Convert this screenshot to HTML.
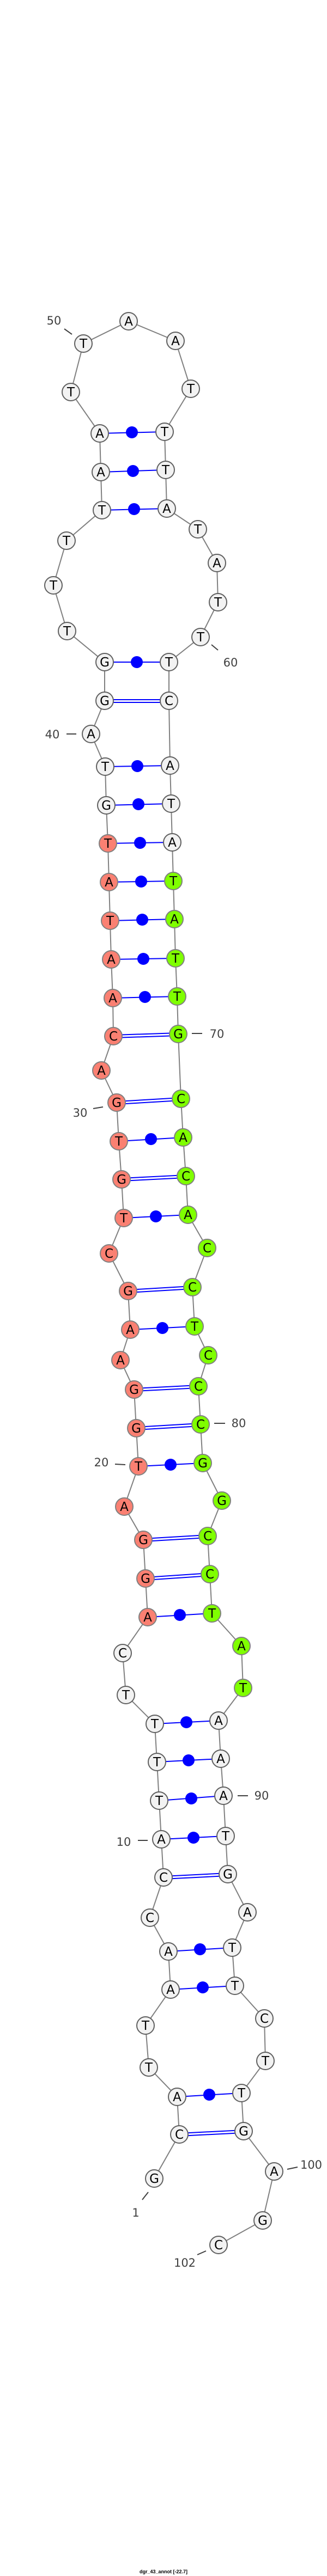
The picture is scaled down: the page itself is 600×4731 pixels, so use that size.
<!DOCTYPE html>
<html><head><meta charset="utf-8"><style>
html,body{margin:0;padding:0;background:#fff;}
svg{display:block;}
.n text{font-family:"DejaVu Sans","Liberation Sans",sans-serif;font-size:23px;text-anchor:middle;fill:#000;}
.lb{font-family:"DejaVu Sans","Liberation Sans",sans-serif;font-size:21px;text-anchor:middle;fill:#404040;}
</style></head><body>
<svg width="600" height="4731" viewBox="0 0 600 4731" xmlns="http://www.w3.org/2000/svg">
<polyline fill="none" stroke="#808080" stroke-width="2" points="283,4001 329,3920 325,3851 273,3797 267,3720 313,3654 309,3584 275,3522 300,3448 296,3378 292,3307 288,3236 284,3166 231,3113 225,3036 271,2970 267,2899 263,2828 228,2767 254,2693 250,2623 246,2552 221,2498 239,2442 235,2371 200,2302 227,2237 223,2166 218,2096 214,2025 186,1966 208,1903 207,1833 204,1762 202,1691 200,1620 198,1549 195,1479 193,1408 167,1348 192,1287 192,1216 123,1159 98,1075 122,993 187,937 185,867 183,796 130,720 153,631 236,590 322,626 350,714 302,793 304,863 306,934 363,972 398,1034 400,1106 368,1170 310,1216 310,1287 312,1406 314,1476 316,1547 318,1618 320,1688 322,1760 325,1830 327,1899 332,2018 336,2089 341,2160 345,2231 380,2292 353,2364 357,2436 382,2489 364,2546 368,2616 372,2687 407,2756 381,2821 385,2891 389,2963 443,3023 446,3100 401,3160 405,3230 410,3298 414,3372 418,3442 454,3512 426,3577 431,3647 485,3707 487,3785 443,3844 447,3914 503,3988 482,4078 401,4123"/>
<g stroke="#0000ff" stroke-width="2">
<!-- single pairs -->
<line x1="325" y1="3851" x2="443" y2="3844"/>
<line x1="313" y1="3654" x2="431" y2="3647"/>
<line x1="309" y1="3584" x2="426" y2="3577"/>
<line x1="296" y1="3378" x2="414" y2="3372"/>
<line x1="292" y1="3307" x2="410" y2="3298"/>
<line x1="288" y1="3236" x2="405" y2="3230"/>
<line x1="284" y1="3166" x2="401" y2="3160"/>
<line x1="271" y1="2970" x2="389" y2="2963"/>
<line x1="254" y1="2693" x2="372" y2="2687"/>
<line x1="239" y1="2442" x2="357" y2="2436"/>
<line x1="227" y1="2237" x2="345" y2="2231"/>
<line x1="218" y1="2096" x2="336" y2="2089"/>
<line x1="207" y1="1833" x2="325" y2="1830"/>
<line x1="204" y1="1762" x2="322" y2="1760"/>
<line x1="202" y1="1691" x2="320" y2="1688"/>
<line x1="200" y1="1620" x2="318" y2="1618"/>
<line x1="198" y1="1549" x2="316" y2="1547"/>
<line x1="195" y1="1479" x2="314" y2="1476"/>
<line x1="193" y1="1408" x2="312" y2="1406"/>
<line x1="192" y1="1216" x2="310" y2="1216"/>
<line x1="187" y1="937" x2="306" y2="934"/>
<line x1="185" y1="867" x2="304" y2="863"/>
<line x1="183" y1="796" x2="302" y2="793"/>
<!-- double pairs -->
<line x1="329" y1="3918" x2="447" y2="3912"/><line x1="329" y1="3923" x2="447" y2="3917"/>
<line x1="300" y1="3446" x2="418" y2="3440"/><line x1="300" y1="3451" x2="418" y2="3445"/>
<line x1="267" y1="2897" x2="385" y2="2889"/><line x1="267" y1="2902" x2="385" y2="2894"/>
<line x1="263" y1="2826" x2="381" y2="2819"/><line x1="263" y1="2831" x2="381" y2="2824"/>
<line x1="250" y1="2621" x2="368" y2="2614"/><line x1="250" y1="2626" x2="368" y2="2619"/>
<line x1="246" y1="2550" x2="364" y2="2544"/><line x1="246" y1="2555" x2="364" y2="2549"/>
<line x1="235" y1="2369" x2="353" y2="2362"/><line x1="235" y1="2374" x2="353" y2="2367"/>
<line x1="223" y1="2164" x2="341" y2="2158"/><line x1="223" y1="2169" x2="341" y2="2163"/>
<line x1="214" y1="2023" x2="332" y2="2016"/><line x1="214" y1="2028" x2="332" y2="2021"/>
<line x1="208" y1="1901" x2="327" y2="1897"/><line x1="208" y1="1906" x2="327" y2="1902"/>
<line x1="192" y1="1285" x2="310" y2="1285"/><line x1="192" y1="1290" x2="310" y2="1290"/>
</g>
<g fill="#0000ff">
<circle cx="384" cy="3847" r="11"/><circle cx="372" cy="3650" r="11"/><circle cx="367" cy="3580" r="11"/>
<circle cx="355" cy="3375" r="11"/><circle cx="351" cy="3303" r="11"/><circle cx="346" cy="3233" r="11"/>
<circle cx="342" cy="3163" r="11"/><circle cx="330" cy="2966" r="11"/><circle cx="313" cy="2690" r="11"/>
<circle cx="298" cy="2439" r="11"/><circle cx="286" cy="2234" r="11"/><circle cx="277" cy="2092" r="11"/>
<circle cx="266" cy="1831" r="11"/><circle cx="263" cy="1761" r="11"/><circle cx="261" cy="1689" r="11"/>
<circle cx="259" cy="1619" r="11"/><circle cx="257" cy="1548" r="11"/><circle cx="254" cy="1477" r="11"/>
<circle cx="252" cy="1407" r="11"/><circle cx="251" cy="1216" r="11"/><circle cx="246" cy="935" r="11"/>
<circle cx="244" cy="865" r="11"/><circle cx="242" cy="794" r="11"/>
</g>
<g class="n" stroke-width="2">
<g><circle cx="283" cy="4001" r="16" fill="#f2f2f2" stroke="#606060"/><text x="283" y="4009">G</text></g>
<g><circle cx="329" cy="3920" r="16" fill="#f2f2f2" stroke="#606060"/><text x="329" y="3928">C</text></g>
<g><circle cx="325" cy="3851" r="16" fill="#f2f2f2" stroke="#606060"/><text x="325" y="3859">A</text></g>
<g><circle cx="273" cy="3797" r="16" fill="#f2f2f2" stroke="#606060"/><text x="273" y="3805">T</text></g>
<g><circle cx="267" cy="3720" r="16" fill="#f2f2f2" stroke="#606060"/><text x="267" y="3728">T</text></g>
<g><circle cx="313" cy="3654" r="16" fill="#f2f2f2" stroke="#606060"/><text x="313" y="3662">A</text></g>
<g><circle cx="309" cy="3584" r="16" fill="#f2f2f2" stroke="#606060"/><text x="309" y="3592">A</text></g>
<g><circle cx="275" cy="3522" r="16" fill="#f2f2f2" stroke="#606060"/><text x="275" y="3530">C</text></g>
<g><circle cx="300" cy="3448" r="16" fill="#f2f2f2" stroke="#606060"/><text x="300" y="3456">C</text></g>
<g><circle cx="296" cy="3378" r="16" fill="#f2f2f2" stroke="#606060"/><text x="296" y="3386">A</text></g>
<g><circle cx="292" cy="3307" r="16" fill="#f2f2f2" stroke="#606060"/><text x="292" y="3315">T</text></g>
<g><circle cx="288" cy="3236" r="16" fill="#f2f2f2" stroke="#606060"/><text x="288" y="3244">T</text></g>
<g><circle cx="284" cy="3166" r="16" fill="#f2f2f2" stroke="#606060"/><text x="284" y="3174">T</text></g>
<g><circle cx="231" cy="3113" r="16" fill="#f2f2f2" stroke="#606060"/><text x="231" y="3121">T</text></g>
<g><circle cx="225" cy="3036" r="16" fill="#f2f2f2" stroke="#606060"/><text x="225" y="3044">C</text></g>
<g><circle cx="271" cy="2970" r="16" fill="#fa8072" stroke="#808080"/><text x="271" y="2978">A</text></g>
<g><circle cx="267" cy="2899" r="16" fill="#fa8072" stroke="#808080"/><text x="267" y="2907">G</text></g>
<g><circle cx="263" cy="2828" r="16" fill="#fa8072" stroke="#808080"/><text x="263" y="2836">G</text></g>
<g><circle cx="228" cy="2767" r="16" fill="#fa8072" stroke="#808080"/><text x="228" y="2775">A</text></g>
<g><circle cx="254" cy="2693" r="16" fill="#fa8072" stroke="#808080"/><text x="254" y="2701">T</text></g>
<g><circle cx="250" cy="2623" r="16" fill="#fa8072" stroke="#808080"/><text x="250" y="2631">G</text></g>
<g><circle cx="246" cy="2552" r="16" fill="#fa8072" stroke="#808080"/><text x="246" y="2560">G</text></g>
<g><circle cx="221" cy="2498" r="16" fill="#fa8072" stroke="#808080"/><text x="221" y="2506">A</text></g>
<g><circle cx="239" cy="2442" r="16" fill="#fa8072" stroke="#808080"/><text x="239" y="2450">A</text></g>
<g><circle cx="235" cy="2371" r="16" fill="#fa8072" stroke="#808080"/><text x="235" y="2379">G</text></g>
<g><circle cx="200" cy="2302" r="16" fill="#fa8072" stroke="#808080"/><text x="200" y="2310">C</text></g>
<g><circle cx="227" cy="2237" r="16" fill="#fa8072" stroke="#808080"/><text x="227" y="2245">T</text></g>
<g><circle cx="223" cy="2166" r="16" fill="#fa8072" stroke="#808080"/><text x="223" y="2174">G</text></g>
<g><circle cx="218" cy="2096" r="16" fill="#fa8072" stroke="#808080"/><text x="218" y="2104">T</text></g>
<g><circle cx="214" cy="2025" r="16" fill="#fa8072" stroke="#808080"/><text x="214" y="2033">G</text></g>
<g><circle cx="186" cy="1966" r="16" fill="#fa8072" stroke="#808080"/><text x="186" y="1974">A</text></g>
<g><circle cx="208" cy="1903" r="16" fill="#fa8072" stroke="#808080"/><text x="208" y="1911">C</text></g>
<g><circle cx="207" cy="1833" r="16" fill="#fa8072" stroke="#808080"/><text x="207" y="1841">A</text></g>
<g><circle cx="204" cy="1762" r="16" fill="#fa8072" stroke="#808080"/><text x="204" y="1770">A</text></g>
<g><circle cx="202" cy="1691" r="16" fill="#fa8072" stroke="#808080"/><text x="202" y="1699">T</text></g>
<g><circle cx="200" cy="1620" r="16" fill="#fa8072" stroke="#808080"/><text x="200" y="1628">A</text></g>
<g><circle cx="198" cy="1549" r="16" fill="#fa8072" stroke="#808080"/><text x="198" y="1557">T</text></g>
<g><circle cx="195" cy="1479" r="16" fill="#f2f2f2" stroke="#606060"/><text x="195" y="1487">G</text></g>
<g><circle cx="193" cy="1408" r="16" fill="#f2f2f2" stroke="#606060"/><text x="193" y="1416">T</text></g>
<g><circle cx="167" cy="1348" r="16" fill="#f2f2f2" stroke="#606060"/><text x="167" y="1356">A</text></g>
<g><circle cx="192" cy="1287" r="16" fill="#f2f2f2" stroke="#606060"/><text x="192" y="1295">G</text></g>
<g><circle cx="192" cy="1216" r="16" fill="#f2f2f2" stroke="#606060"/><text x="192" y="1224">G</text></g>
<g><circle cx="123" cy="1159" r="16" fill="#f2f2f2" stroke="#606060"/><text x="123" y="1167">T</text></g>
<g><circle cx="98" cy="1075" r="16" fill="#f2f2f2" stroke="#606060"/><text x="98" y="1083">T</text></g>
<g><circle cx="122" cy="993" r="16" fill="#f2f2f2" stroke="#606060"/><text x="122" y="1001">T</text></g>
<g><circle cx="187" cy="937" r="16" fill="#f2f2f2" stroke="#606060"/><text x="187" y="945">T</text></g>
<g><circle cx="185" cy="867" r="16" fill="#f2f2f2" stroke="#606060"/><text x="185" y="875">A</text></g>
<g><circle cx="183" cy="796" r="16" fill="#f2f2f2" stroke="#606060"/><text x="183" y="804">A</text></g>
<g><circle cx="130" cy="720" r="16" fill="#f2f2f2" stroke="#606060"/><text x="130" y="728">T</text></g>
<g><circle cx="153" cy="631" r="16" fill="#f2f2f2" stroke="#606060"/><text x="153" y="639">T</text></g>
<g><circle cx="236" cy="590" r="16" fill="#f2f2f2" stroke="#606060"/><text x="236" y="598">A</text></g>
<g><circle cx="322" cy="626" r="16" fill="#f2f2f2" stroke="#606060"/><text x="322" y="634">A</text></g>
<g><circle cx="350" cy="714" r="16" fill="#f2f2f2" stroke="#606060"/><text x="350" y="722">T</text></g>
<g><circle cx="302" cy="793" r="16" fill="#f2f2f2" stroke="#606060"/><text x="302" y="801">T</text></g>
<g><circle cx="304" cy="863" r="16" fill="#f2f2f2" stroke="#606060"/><text x="304" y="871">T</text></g>
<g><circle cx="306" cy="934" r="16" fill="#f2f2f2" stroke="#606060"/><text x="306" y="942">A</text></g>
<g><circle cx="363" cy="972" r="16" fill="#f2f2f2" stroke="#606060"/><text x="363" y="980">T</text></g>
<g><circle cx="398" cy="1034" r="16" fill="#f2f2f2" stroke="#606060"/><text x="398" y="1042">A</text></g>
<g><circle cx="400" cy="1106" r="16" fill="#f2f2f2" stroke="#606060"/><text x="400" y="1114">T</text></g>
<g><circle cx="368" cy="1170" r="16" fill="#f2f2f2" stroke="#606060"/><text x="368" y="1178">T</text></g>
<g><circle cx="310" cy="1216" r="16" fill="#f2f2f2" stroke="#606060"/><text x="310" y="1224">T</text></g>
<g><circle cx="310" cy="1287" r="16" fill="#f2f2f2" stroke="#606060"/><text x="310" y="1295">C</text></g>
<g><circle cx="312" cy="1406" r="16" fill="#f2f2f2" stroke="#606060"/><text x="312" y="1414">A</text></g>
<g><circle cx="314" cy="1476" r="16" fill="#f2f2f2" stroke="#606060"/><text x="314" y="1484">T</text></g>
<g><circle cx="316" cy="1547" r="16" fill="#f2f2f2" stroke="#606060"/><text x="316" y="1555">A</text></g>
<g><circle cx="318" cy="1618" r="16" fill="#7fff00" stroke="#808080"/><text x="318" y="1626">T</text></g>
<g><circle cx="320" cy="1688" r="16" fill="#7fff00" stroke="#808080"/><text x="320" y="1696">A</text></g>
<g><circle cx="322" cy="1760" r="16" fill="#7fff00" stroke="#808080"/><text x="322" y="1768">T</text></g>
<g><circle cx="325" cy="1830" r="16" fill="#7fff00" stroke="#808080"/><text x="325" y="1838">T</text></g>
<g><circle cx="327" cy="1899" r="16" fill="#7fff00" stroke="#808080"/><text x="327" y="1907">G</text></g>
<g><circle cx="332" cy="2018" r="16" fill="#7fff00" stroke="#808080"/><text x="332" y="2026">C</text></g>
<g><circle cx="336" cy="2089" r="16" fill="#7fff00" stroke="#808080"/><text x="336" y="2097">A</text></g>
<g><circle cx="341" cy="2160" r="16" fill="#7fff00" stroke="#808080"/><text x="341" y="2168">C</text></g>
<g><circle cx="345" cy="2231" r="16" fill="#7fff00" stroke="#808080"/><text x="345" y="2239">A</text></g>
<g><circle cx="380" cy="2292" r="16" fill="#7fff00" stroke="#808080"/><text x="380" y="2300">C</text></g>
<g><circle cx="353" cy="2364" r="16" fill="#7fff00" stroke="#808080"/><text x="353" y="2372">C</text></g>
<g><circle cx="357" cy="2436" r="16" fill="#7fff00" stroke="#808080"/><text x="357" y="2444">T</text></g>
<g><circle cx="382" cy="2489" r="16" fill="#7fff00" stroke="#808080"/><text x="382" y="2497">C</text></g>
<g><circle cx="364" cy="2546" r="16" fill="#7fff00" stroke="#808080"/><text x="364" y="2554">C</text></g>
<g><circle cx="368" cy="2616" r="16" fill="#7fff00" stroke="#808080"/><text x="368" y="2624">C</text></g>
<g><circle cx="372" cy="2687" r="16" fill="#7fff00" stroke="#808080"/><text x="372" y="2695">G</text></g>
<g><circle cx="407" cy="2756" r="16" fill="#7fff00" stroke="#808080"/><text x="407" y="2764">G</text></g>
<g><circle cx="381" cy="2821" r="16" fill="#7fff00" stroke="#808080"/><text x="381" y="2829">C</text></g>
<g><circle cx="385" cy="2891" r="16" fill="#7fff00" stroke="#808080"/><text x="385" y="2899">C</text></g>
<g><circle cx="389" cy="2963" r="16" fill="#7fff00" stroke="#808080"/><text x="389" y="2971">T</text></g>
<g><circle cx="443" cy="3023" r="16" fill="#7fff00" stroke="#808080"/><text x="443" y="3031">A</text></g>
<g><circle cx="446" cy="3100" r="16" fill="#7fff00" stroke="#808080"/><text x="446" y="3108">T</text></g>
<g><circle cx="401" cy="3160" r="16" fill="#f2f2f2" stroke="#606060"/><text x="401" y="3168">A</text></g>
<g><circle cx="405" cy="3230" r="16" fill="#f2f2f2" stroke="#606060"/><text x="405" y="3238">A</text></g>
<g><circle cx="410" cy="3298" r="16" fill="#f2f2f2" stroke="#606060"/><text x="410" y="3306">A</text></g>
<g><circle cx="414" cy="3372" r="16" fill="#f2f2f2" stroke="#606060"/><text x="414" y="3380">T</text></g>
<g><circle cx="418" cy="3442" r="16" fill="#f2f2f2" stroke="#606060"/><text x="418" y="3450">G</text></g>
<g><circle cx="454" cy="3512" r="16" fill="#f2f2f2" stroke="#606060"/><text x="454" y="3520">A</text></g>
<g><circle cx="426" cy="3577" r="16" fill="#f2f2f2" stroke="#606060"/><text x="426" y="3585">T</text></g>
<g><circle cx="431" cy="3647" r="16" fill="#f2f2f2" stroke="#606060"/><text x="431" y="3655">T</text></g>
<g><circle cx="485" cy="3707" r="16" fill="#f2f2f2" stroke="#606060"/><text x="485" y="3715">C</text></g>
<g><circle cx="487" cy="3785" r="16" fill="#f2f2f2" stroke="#606060"/><text x="487" y="3793">T</text></g>
<g><circle cx="443" cy="3844" r="16" fill="#f2f2f2" stroke="#606060"/><text x="443" y="3852">T</text></g>
<g><circle cx="447" cy="3914" r="16" fill="#f2f2f2" stroke="#606060"/><text x="447" y="3922">G</text></g>
<g><circle cx="503" cy="3988" r="16" fill="#f2f2f2" stroke="#606060"/><text x="503" y="3996">A</text></g>
<g><circle cx="482" cy="4078" r="16" fill="#f2f2f2" stroke="#606060"/><text x="482" y="4086">G</text></g>
<g><circle cx="401" cy="4123" r="16" fill="#f2f2f2" stroke="#606060"/><text x="401" y="4131">C</text></g>
</g>
<g stroke="#404040" stroke-width="2">
<line x1="118" y1="604" x2="132" y2="614"/>
<line x1="388" y1="1184" x2="400" y2="1194"/>
<line x1="122" y1="1348" x2="140" y2="1348"/>
<line x1="352" y1="1898" x2="371" y2="1898"/>
<line x1="171" y1="2036" x2="189" y2="2033"/>
<line x1="393" y1="2614" x2="413" y2="2614"/>
<line x1="211" y1="2689" x2="230" y2="2690"/>
<line x1="436" y1="3298" x2="455" y2="3298"/>
<line x1="253" y1="3380" x2="271" y2="3380"/>
<line x1="527" y1="3984" x2="546" y2="3980"/>
<line x1="261" y1="4040" x2="272" y2="4026"/>
<line x1="362" y1="4141" x2="378" y2="4134"/>
</g>
<text class="lb" x="99" y="596">50</text>
<text class="lb" x="423" y="1224">60</text>
<text class="lb" x="96" y="1356">40</text>
<text class="lb" x="398" y="1906">70</text>
<text class="lb" x="147" y="2051">30</text>
<text class="lb" x="438" y="2621">80</text>
<text class="lb" x="186" y="2693">20</text>
<text class="lb" x="480" y="3305">90</text>
<text class="lb" x="227" y="3390">10</text>
<text class="lb" x="571" y="3983">100</text>
<text class="lb" x="249" y="4071">1</text>
<text class="lb" x="339" y="4163">102</text>
<text x="300" y="4726" font-family="Liberation Sans, sans-serif" font-size="9" font-weight="bold" text-anchor="middle" fill="#000">dgr_43_annot [-22.7]</text>
</svg>
</body></html>
